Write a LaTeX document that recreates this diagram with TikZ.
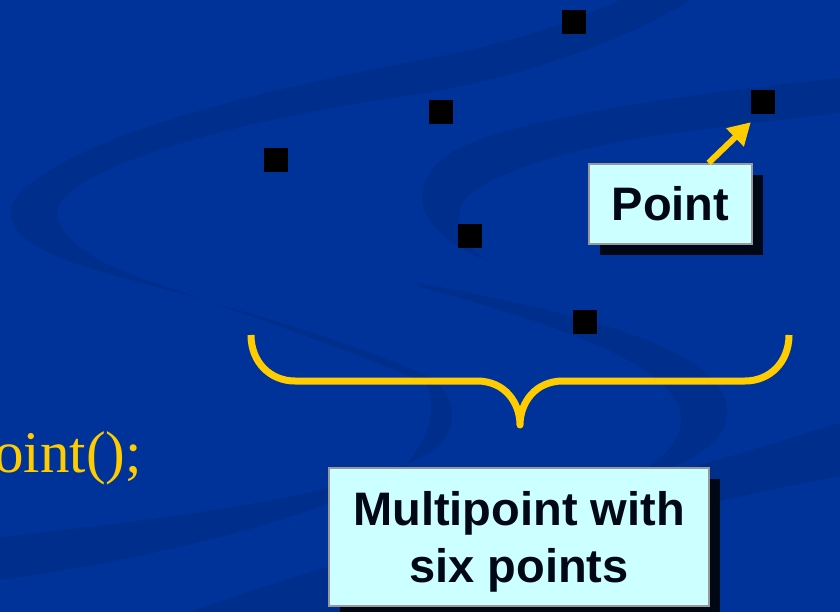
\documentclass[tikz,border=0pt]{standalone}
\usepackage{fontspec}
\setmainfont{Liberation Serif}
\newfontfamily\calloutfont{Liberation Sans}
\usetikzlibrary{arrows.meta,shadows}

\definecolor{slidebg}{RGB}{0,51,153}
\definecolor{ribbon}{RGB}{0,46,140}
\definecolor{gold}{RGB}{255,204,0}
\definecolor{paleaqua}{RGB}{204,255,255}
\definecolor{framegray}{RGB}{153,153,153}
\definecolor{inkdark}{RGB}{0,8,22}

\tikzset{
  vertex/.style={fill=black, draw=none, minimum size=24pt, inner sep=0pt},
  callout/.style={fill=paleaqua, draw=framegray, line width=2pt,
    text=inkdark, align=center, inner sep=0pt,
    font=\calloutfont\bfseries\fontsize{47}{57}\selectfont,
    drop shadow={shadow xshift=11pt, shadow yshift=-11pt,
                 fill=inkdark, opacity=1}},
  pointer/.style={draw=gold, line width=6pt,
    -{Triangle[length=22pt,width=24pt,fill=gold]}},
  bracket/.style={draw=gold, line width=7pt, line join=round, line cap=butt},
  codetext/.style={text=gold, inner sep=0pt,
    font=\fontsize{59}{59}\selectfont}
}

\begin{document}
\begin{tikzpicture}[x=1pt,y=-1pt]
  \useasboundingbox (0,0) rectangle (840,612);
  \clip (0,0) rectangle (840,612);
  \fill[slidebg] (0,0) rectangle (840,612);

  % background ribbons
  \fill[ribbon] (690,0) -- (620,0) .. controls (560,28) and (490,48) .. (420,60)
    .. controls (250,92) and (60,140) .. (14,200)
    .. controls (-5,240) and (60,262) .. (150,285)
    .. controls (260,315) and (360,345) .. (432,378)
    .. controls (455,395) and (462,428) .. (432,452)
    .. controls (340,500) and (150,520) .. (0,537)
    -- (0,580)
    .. controls (150,560) and (330,515) .. (400,470)
    .. controls (432,440) and (438,400) .. (425,383)
    .. controls (350,350) and (250,316) .. (150,281)
    .. controls (90,262) and (55,235) .. (58,210)
    .. controls (62,175) and (200,125) .. (420,94)
    .. controls (530,76) and (630,38) .. (690,0) -- cycle;
  \fill[ribbon] (840,78) .. controls (700,92) and (510,118) .. (452,152)
    .. controls (420,172) and (410,205) .. (440,232)
    .. controls (455,246) and (470,254) .. (490,262)
    .. controls (470,250) and (455,235) .. (460,210)
    .. controls (465,180) and (560,150) .. (660,135)
    .. controls (740,124) and (800,118) .. (840,113) -- cycle;
  \fill[ribbon] (420,283) .. controls (560,310) and (725,345) .. (727,410)
    .. controls (728,448) and (680,468) .. (620,484)
    .. controls (665,460) and (690,435) .. (678,405)
    .. controls (660,362) and (560,325) .. (420,287) -- cycle;
  \fill[ribbon] (840,423) .. controls (780,440) and (720,462) .. (640,480)
    -- (640,520) .. controls (720,500) and (780,488) .. (840,476) -- cycle;
  \fill[ribbon] (190,612) .. controls (250,590) and (300,575) .. (345,562)
    -- (345,612) -- cycle;

  % the six points
  \node[vertex] (p1) at (574,22) {};
  \node[vertex] (p2) at (441,112) {};
  \node[vertex] (p3) at (275.5,160) {};
  \node[vertex] (p4) at (763,102) {};
  \node[vertex] (p5) at (469.5,236) {};
  \node[vertex] (p6) at (585,322) {};

  % curly bracket under the points
  \coordinate (bl) at (251,335);
  \coordinate (btip) at (520,425);
  \coordinate (br) at (789,335);
  \draw[bracket] (bl) .. controls (251,362) and (270,381) .. (295,381)
    -- (477,381) .. controls (505,381) and (520,403) .. (btip)
    .. controls (520,403) and (535,381) .. (563,381)
    -- (745,381) .. controls (770,381) and (789,362) .. (br);

  % code fragment at the left edge
  \node[codetext, anchor=base west] (code) at (-6,472) {oint();};

  % labels
  \node[callout, minimum width=163pt, minimum height=80pt]
    (pointbox) at (670.5,204) {Point};
  \node[callout, minimum width=380pt, minimum height=138pt]
    (multibox) at (519,537) {\rule{0pt}{44pt}Multipoint with\\six points};

  \draw[pointer] ([xshift=38pt]pointbox.north) -- ([yshift=-8pt]p4.south west);
\end{tikzpicture}
\end{document}
